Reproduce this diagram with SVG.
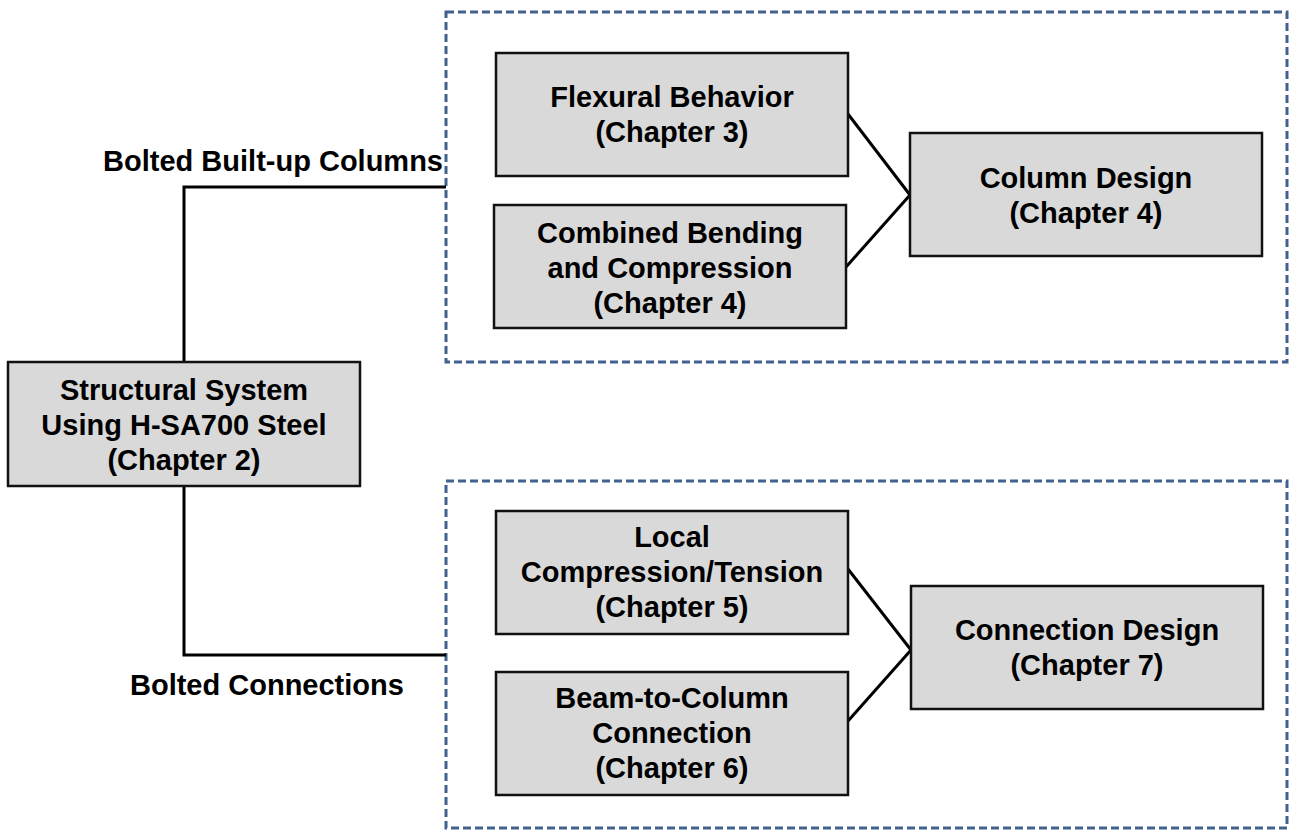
<svg xmlns="http://www.w3.org/2000/svg" width="1293" height="830" viewBox="0 0 1293 830">
<style>
.box{fill:#d9d9d9;stroke:#111;stroke-width:2.5}
.grp{fill:none;stroke:#41618e;stroke-width:3;stroke-dasharray:8 4}
.ln{fill:none;stroke:#000;stroke-width:3}
text{font-family:"Liberation Sans",Arial,sans-serif;font-weight:bold;font-size:29px;fill:#000}
.c{text-anchor:middle}
</style>
<rect width="1293" height="830" fill="#fff"/>
<g id="group-columns"><rect class="grp" x="446" y="12" width="841" height="350"/></g>
<g id="group-connections"><rect class="grp" x="446" y="481" width="841" height="347"/></g>
<g id="connectors">
<polyline class="ln" points="184,362 184,187 446,187"/>
<polyline class="ln" points="184,486 184,655 446,655"/>
<line class="ln" x1="848" y1="114" x2="910" y2="195"/>
<line class="ln" x1="846" y1="267" x2="910" y2="195"/>
<line class="ln" x1="848" y1="569" x2="911" y2="650"/>
<line class="ln" x1="848" y1="721" x2="911" y2="650"/>
</g>
<g id="label-columns"><text x="443" y="171" text-anchor="end">Bolted Built-up Columns</text></g>
<g id="label-connections"><text x="130" y="695">Bolted Connections</text></g>
<g id="structural">
<rect class="box" x="8" y="362" width="352" height="124"/>
<text class="c" x="184" y="400">Structural System</text>
<text class="c" x="184" y="435">Using H-SA700 Steel</text>
<text class="c" x="184" y="470">(Chapter 2)</text>
</g>
<g id="flexural">
<rect class="box" x="496" y="53" width="352" height="123"/>
<text class="c" x="672" y="107">Flexural Behavior</text>
<text class="c" x="672" y="142">(Chapter 3)</text>
</g>
<g id="combined">
<rect class="box" x="494" y="205" width="352" height="123"/>
<text class="c" x="670" y="243">Combined Bending</text>
<text class="c" x="670" y="278">and Compression</text>
<text class="c" x="670" y="313">(Chapter 4)</text>
</g>
<g id="column-design">
<rect class="box" x="910" y="133" width="352" height="123"/>
<text class="c" x="1086" y="188">Column Design</text>
<text class="c" x="1086" y="223">(Chapter 4)</text>
</g>
<g id="local">
<rect class="box" x="496" y="511" width="352" height="123"/>
<text class="c" x="672" y="547">Local</text>
<text class="c" x="672" y="582">Compression/Tension</text>
<text class="c" x="672" y="617">(Chapter 5)</text>
</g>
<g id="beam-column">
<rect class="box" x="496" y="672" width="352" height="123"/>
<text class="c" x="672" y="708">Beam-to-Column</text>
<text class="c" x="672" y="743">Connection</text>
<text class="c" x="672" y="778">(Chapter 6)</text>
</g>
<g id="connection-design">
<rect class="box" x="911" y="586" width="352" height="123"/>
<text class="c" x="1087" y="640">Connection Design</text>
<text class="c" x="1087" y="675">(Chapter 7)</text>
</g>
</svg>
